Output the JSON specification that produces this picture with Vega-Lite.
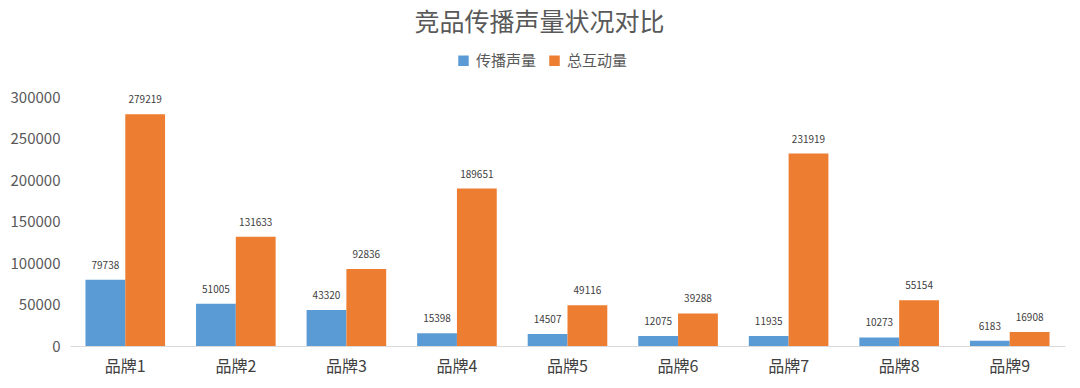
{
  "$schema": "https://vega.github.io/schema/vega-lite/v6.json",
  "width": 995,
  "height": 249,
  "autosize": {"type": "none"},
  "padding": {"left": 70, "top": 97, "right": 15, "bottom": 42},
  "background": "white",
  "title": {
    "text": "竞品传播声量状况对比",
    "font": "Noto Sans CJK SC",
    "fontSize": 25,
    "fontWeight": "normal",
    "color": "#595959",
    "anchor": "middle",
    "frame": "group",
    "offset": 17,
    "dx": -28
  },
  "config": {
    "view": {"stroke": null},
    "font": "Noto Sans CJK SC"
  },
  "data": {
    "values": [
      {"brand": "品牌1", "series": "传播声量", "value": 79738},
      {"brand": "品牌1", "series": "总互动量", "value": 279219},
      {"brand": "品牌2", "series": "传播声量", "value": 51005},
      {"brand": "品牌2", "series": "总互动量", "value": 131633},
      {"brand": "品牌3", "series": "传播声量", "value": 43320},
      {"brand": "品牌3", "series": "总互动量", "value": 92836},
      {"brand": "品牌4", "series": "传播声量", "value": 15398},
      {"brand": "品牌4", "series": "总互动量", "value": 189651},
      {"brand": "品牌5", "series": "传播声量", "value": 14507},
      {"brand": "品牌5", "series": "总互动量", "value": 49116},
      {"brand": "品牌6", "series": "传播声量", "value": 12075},
      {"brand": "品牌6", "series": "总互动量", "value": 39288},
      {"brand": "品牌7", "series": "传播声量", "value": 11935},
      {"brand": "品牌7", "series": "总互动量", "value": 231919},
      {"brand": "品牌8", "series": "传播声量", "value": 10273},
      {"brand": "品牌8", "series": "总互动量", "value": 55154},
      {"brand": "品牌9", "series": "传播声量", "value": 6183},
      {"brand": "品牌9", "series": "总互动量", "value": 16908}
    ]
  },
  "encoding": {
    "x": {
      "field": "brand",
      "type": "nominal",
      "sort": null,
      "title": null,
      "scale": {"paddingInner": 0.28, "paddingOuter": 0.14},
      "axis": {
        "labelAngle": 0,
        "ticks": false,
        "domainColor": "#d9d9d9",
        "labelFontSize": 16,
        "labelColor": "#404040",
        "labelPadding": 12
      }
    },
    "xOffset": {"field": "series", "type": "nominal", "sort": ["传播声量", "总互动量"]},
    "y": {
      "field": "value",
      "type": "quantitative",
      "title": null,
      "scale": {"domain": [0, 300000], "nice": false},
      "axis": {
        "values": [0, 50000, 100000, 150000, 200000, 250000, 300000],
        "format": "d",
        "grid": false,
        "domain": false,
        "ticks": false,
        "labelFontSize": 15,
        "labelColor": "#595959",
        "labelPadding": 10
      }
    }
  },
  "layer": [
    {
      "mark": {"type": "bar"},
      "encoding": {
        "color": {
          "field": "series",
          "type": "nominal",
          "sort": ["传播声量", "总互动量"],
          "scale": {"domain": ["传播声量", "总互动量"], "range": ["#5B9BD5", "#ED7D31"]},
          "legend": {
            "title": null,
            "orient": "none",
            "legendX": 386,
            "legendY": -44,
            "direction": "horizontal",
            "symbolType": "square",
            "symbolSize": 110,
            "symbolStrokeWidth": 0,
            "labelFontSize": 15,
            "labelColor": "#595959",
            "columnPadding": 10,
            "labelOffset": 5
          }
        }
      }
    },
    {
      "mark": {"type": "text", "baseline": "bottom", "dy": -9, "fontSize": 10, "color": "#404040"},
      "encoding": {
        "text": {"field": "value", "type": "quantitative", "format": "d"}
      }
    }
  ]
}
